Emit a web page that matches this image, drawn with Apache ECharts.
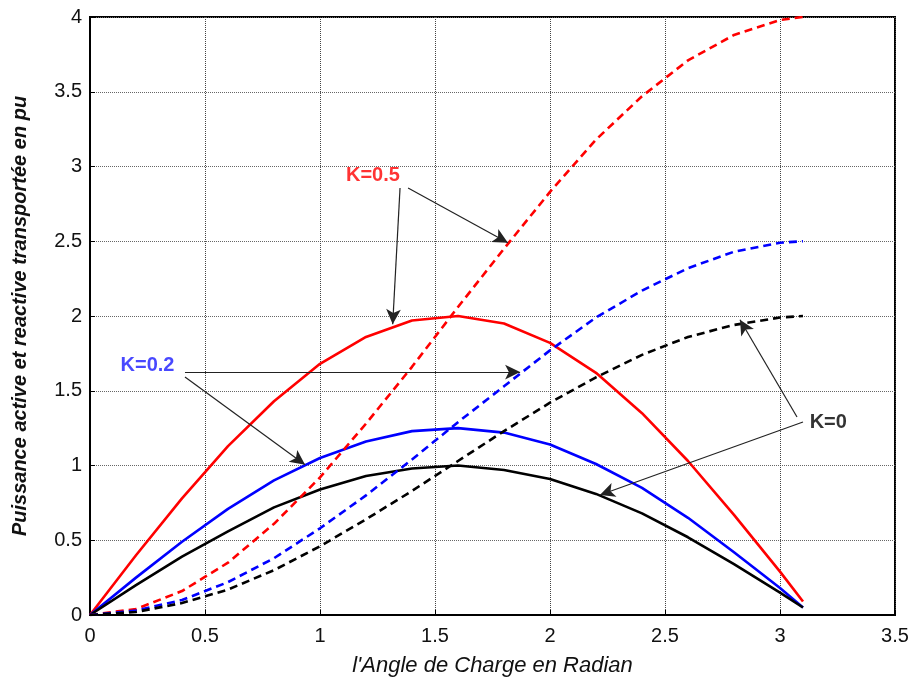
<!DOCTYPE html>
<html>
<head>
<meta charset="utf-8">
<script src="https://cdn.jsdelivr.net/npm/echarts@6/dist/echarts.min.js"></script>
<style>html,body{margin:0;padding:0;background:#fff}#c{width:916px;height:678px}</style>
</head>
<body>
<div id="c"></div>
<script>
// Load angle (rad)
var angles = [0, 0.2, 0.4, 0.6, 0.8, 1.0, 1.2, 1.4, 1.6, 1.8, 2.0, 2.2, 2.4, 2.6, 2.8, 3.0, 3.1];
// Active power (solid)
var pK0   = [0, 0.20, 0.39, 0.56, 0.72, 0.84, 0.93, 0.98, 1.00, 0.97, 0.91, 0.81, 0.68, 0.52, 0.34, 0.15, 0.05];
var pK02  = [0, 0.25, 0.49, 0.71, 0.90, 1.05, 1.16, 1.23, 1.25, 1.22, 1.14, 1.01, 0.85, 0.65, 0.42, 0.18, 0.05];
var pK05  = [0, 0.40, 0.78, 1.13, 1.43, 1.68, 1.86, 1.97, 2.00, 1.95, 1.82, 1.62, 1.35, 1.03, 0.67, 0.29, 0.09];
// Reactive power (dashed)
var qK0   = [0, 0.02, 0.08, 0.17, 0.30, 0.46, 0.64, 0.83, 1.03, 1.23, 1.42, 1.59, 1.74, 1.86, 1.94, 1.99, 2.00];
var qK02  = [0, 0.03, 0.10, 0.22, 0.38, 0.58, 0.80, 1.04, 1.29, 1.53, 1.77, 1.99, 2.17, 2.32, 2.43, 2.49, 2.50];
var qK05  = [0, 0.04, 0.16, 0.35, 0.61, 0.92, 1.28, 1.66, 2.06, 2.45, 2.83, 3.18, 3.47, 3.71, 3.88, 3.98, 4.00];
// Axis ticks
var xTicks = [0, 0.5, 1, 1.5, 2, 2.5, 3, 3.5];
var yTicks = [0, 0.5, 1, 1.5, 2, 2.5, 3, 3.5, 4];
// Annotation labels [x, y, text, colour]
var labelPos = [[1.23, 2.94, 'K=0.5', '#ff0000'], [0.25, 1.67, 'K=0.2', '#1a1aff'], [3.21, 1.29, 'K=0', '#000000']];
// Annotation arrows [x1, y1, x2, y2]
var arrows = [
  [1.348, 2.856, 1.316, 1.945],
  [1.383, 2.856, 1.817, 2.49],
  [0.413, 1.625, 1.870, 1.625],
  [0.413, 1.592, 0.935, 1.005],
  [3.074, 1.324, 2.826, 1.975],
  [3.100, 1.291, 2.217, 0.803]
];

function zip(xs, ys) { return xs.map(function (x, i) { return [x, ys[i]]; }); }

var font = 'Liberation Sans, Arial, sans-serif';
function line(name, ys, color, dashed) {
  return {
    name: name, type: 'line', data: zip(angles, ys), showSymbol: false, symbol: 'none',
    lineStyle: { color: color, width: 2.6, type: dashed ? [8, 5] : 'solid' },
    z: 3
  };
}

var chart = echarts.init(document.getElementById('c'), null, { renderer: 'canvas' });
chart.setOption({
  backgroundColor: '#fff',
  animation: false,
  grid: { left: 90, right: 21, top: 17, bottom: 63, outerBoundsMode: 'none', containLabel: false,
    show: true, borderColor: '#000', borderWidth: 2, backgroundColor: 'transparent' },
  xAxis: {
    type: 'value', min: 0, max: 3.5, interval: 0.5,
    name: "l'Angle de Charge en Radian", nameLocation: 'middle', nameGap: 40,
    nameTextStyle: { fontFamily: font, fontStyle: 'italic', fontSize: 22, color: '#111' },
    axisLine: { show: true, lineStyle: { color: '#000', width: 2 } },
    axisTick: { show: true, inside: true, length: 5, lineStyle: { color: '#000' } },
    axisLabel: { fontFamily: font, fontSize: 20, color: '#111', margin: 11,
      formatter: function (v) { return xTicks.indexOf(+v.toFixed(2)) >= 0 ? String(v) : ''; } },
    splitLine: { show: true, lineStyle: { color: '#444', type: 'dotted', width: 1 } }
  },
  yAxis: {
    type: 'value', min: 0, max: 4, interval: 0.5,
    name: 'Puissance active et reactive transportée en pu', nameLocation: 'middle', nameGap: 60,
    nameTextStyle: { fontFamily: font, fontStyle: 'italic', fontWeight: 'bold', fontSize: 20, color: '#111' },
    axisLine: { show: true, lineStyle: { color: '#000', width: 2 } },
    axisTick: { show: true, inside: true, length: 5, lineStyle: { color: '#000' } },
    axisLabel: { fontFamily: font, fontSize: 20, color: '#111', margin: 8,
      formatter: function (v) { return yTicks.indexOf(+v.toFixed(2)) >= 0 ? String(v) : ''; } },
    splitLine: { show: true, lineStyle: { color: '#666', type: 'dotted', width: 1 } }
  },
  series: [
    line('P K=0.5', pK05, '#ff0000', false),
    line('P K=0.2', pK02, '#0000ff', false),
    line('P K=0', pK0, '#000000', false),
    line('Q K=0.5', qK05, '#ff0000', true),
    line('Q K=0.2', qK02, '#0000ff', true),
    line('Q K=0', qK0, '#000000', true),
    {
      name: 'arrows', type: 'line', data: [], z: 4,
      markLine: {
        silent: true, animation: false,
        symbol: ['none', 'arrow'], symbolSize: [11, 15],
        label: { show: false },
        lineStyle: { color: '#222', width: 1.2, type: 'solid' },
        emphasis: { disabled: true },
        data: arrows.map(function (a) { return [{ coord: [a[0], a[1]] }, { coord: [a[2], a[3]] }]; })
      }
    },
    {
      name: 'labels', type: 'scatter', symbolSize: 0, z: 5, silent: true,
      data: labelPos.map(function (l) {
        return { value: [l[0], l[1]], label: { show: true, position: 'inside', formatter: l[2],
          fontFamily: font, fontWeight: 'bold', fontSize: 20, color: l[3] } };
      })
    }
  ]
});
</script>
</body>
</html>
